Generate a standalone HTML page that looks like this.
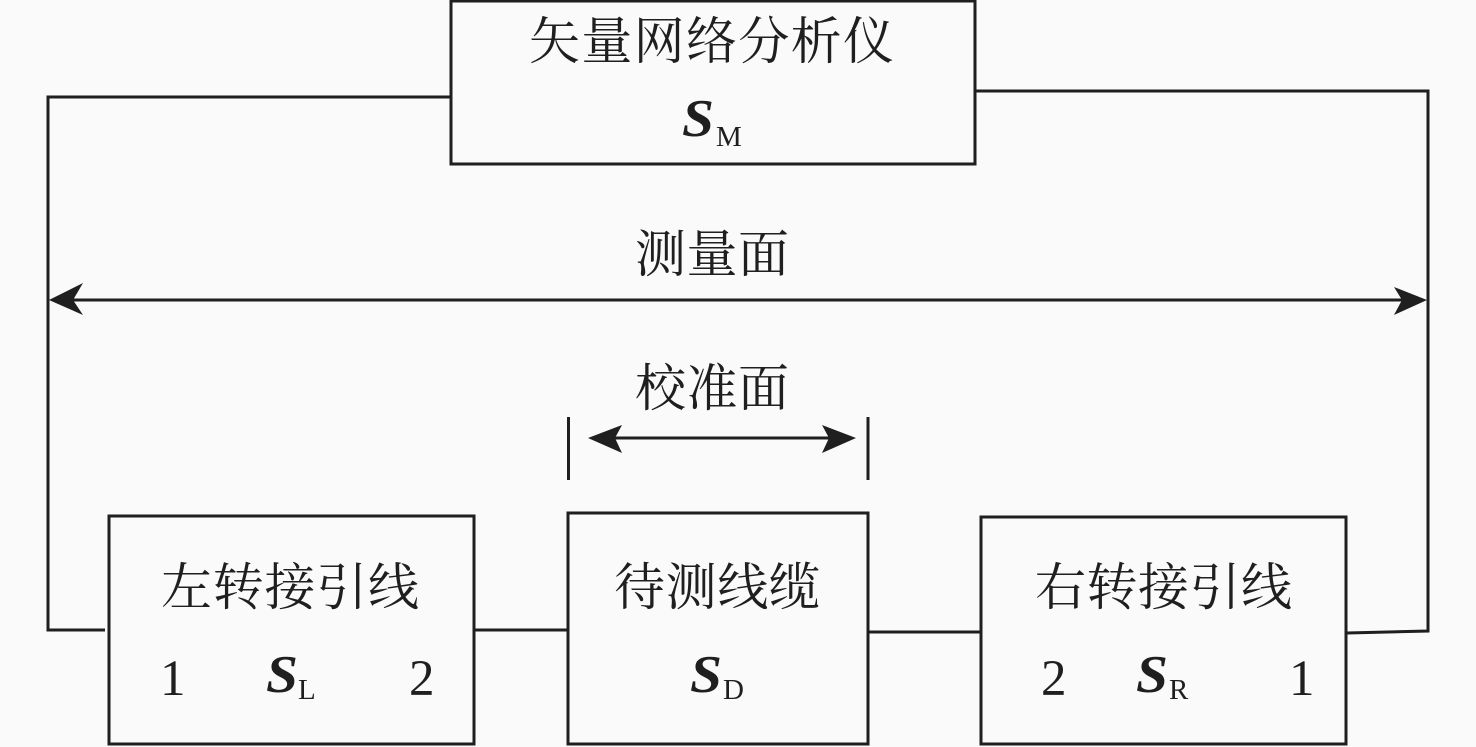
<!DOCTYPE html>
<html lang="zh">
<head>
<meta charset="utf-8">
<style>
html,body{margin:0;padding:0;background:#fafafa;width:1476px;height:747px;overflow:hidden}
svg{display:block}
.cn{font-family:"Liberation Serif","Noto Serif CJK SC",serif;font-size:51px;fill:#1f1f1f}
.n{font-family:"Liberation Serif",serif;font-size:51px;fill:#1f1f1f}
.s{font-family:"Liberation Serif",serif;font-size:53px;font-weight:bold;font-style:italic;fill:#1f1f1f}
.sub{font-family:"Liberation Serif",serif;font-size:29px;fill:#1f1f1f}
</style>
</head>
<body>
<svg width="1476" height="747" viewBox="0 0 1476 747" xmlns="http://www.w3.org/2000/svg">
<rect width="1476" height="747" fill="#fafafa"/>
<g fill="none" stroke="#1f1f1f" stroke-width="3">
<rect x="451" y="1" width="524" height="163"/>
<rect x="109" y="516" width="365" height="228"/>
<rect x="568" y="513" width="300" height="231"/>
<rect x="981" y="517" width="365" height="227"/>
<path d="M451 97H48V630H105"/>
<path d="M975 91H1428V631L1347 633"/>
<path d="M474 630H568"/>
<path d="M868 632H981"/>
<path d="M60 300H1416"/>
<path d="M600 438H845"/>
<path d="M568.500 417V480"/>
<path d="M868 417V480"/>
</g>
<g fill="#1f1f1f">
<path d="M49 300L83 283L73 300L83 315Z"/>
<path d="M1427 300L1394 287L1402 300L1394 315Z"/>
<path d="M588 438L622 425L615 438L622 453Z"/>
<path d="M856 438L822 425L829 438L822 453Z"/>
</g>
<text class="cn" x="529" y="59" textLength="365" lengthAdjust="spacing">矢量网络分析仪</text>
<text class="s" x="682" y="136" textLength="32" lengthAdjust="spacingAndGlyphs">S</text>
<text class="sub" x="716" y="146">M</text>
<text class="cn" x="635" y="272" textLength="154" lengthAdjust="spacing">测量面</text>
<text class="cn" x="635" y="406" textLength="154" lengthAdjust="spacing">校准面</text>
<text class="cn" x="161" y="605" textLength="258" lengthAdjust="spacing">左转接引线</text>
<text class="n" x="160" y="695">1</text>
<text class="s" x="266" y="692" textLength="32" lengthAdjust="spacingAndGlyphs">S</text>
<text class="sub" x="298" y="699">L</text>
<text class="n" x="409" y="695">2</text>
<text class="cn" x="614" y="605" textLength="206" lengthAdjust="spacing">待测线缆</text>
<text class="s" x="690" y="692" textLength="32" lengthAdjust="spacingAndGlyphs">S</text>
<text class="sub" x="723" y="699">D</text>
<text class="cn" x="1035" y="605" textLength="257" lengthAdjust="spacing">右转接引线</text>
<text class="n" x="1041" y="695">2</text>
<text class="s" x="1136" y="692" textLength="32" lengthAdjust="spacingAndGlyphs">S</text>
<text class="sub" x="1169" y="699">R</text>
<text class="n" x="1289" y="695">1</text>
</svg>
</body>
</html>
